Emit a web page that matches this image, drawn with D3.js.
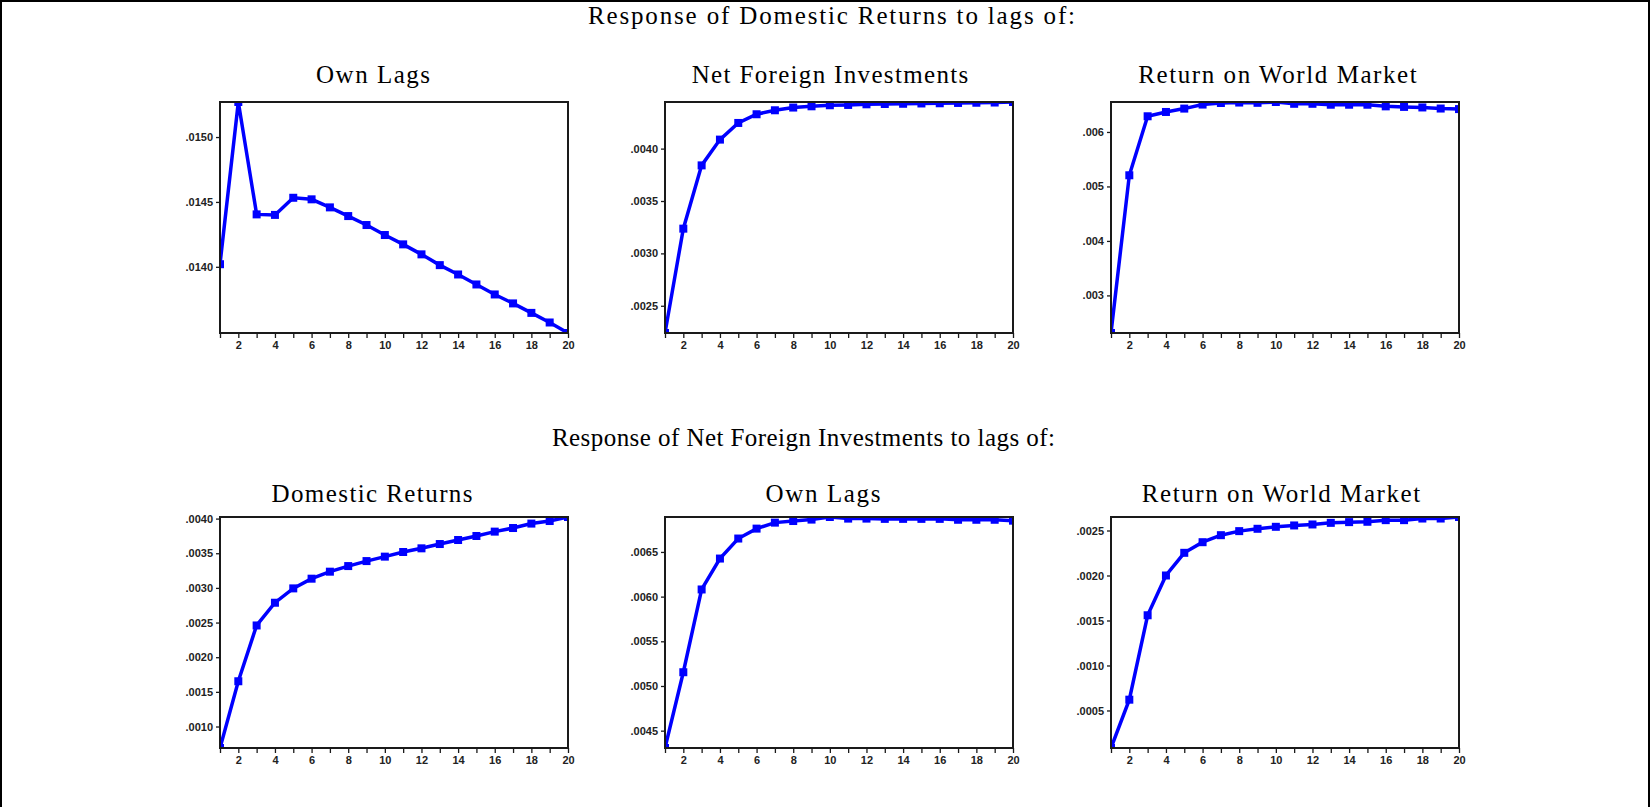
<!DOCTYPE html>
<html>
<head>
<meta charset="utf-8">
<script src="https://cdn.jsdelivr.net/npm/d3@7"></script>
<style>
  html, body { margin: 0; padding: 0; background: #fff; }
  svg { display: block; }
</style>
</head>
<body>
<svg id="chart" width="1650" height="807"></svg>
<script>
// ---------------- DATA ----------------
const horizons = [1,2,3,4,5,6,7,8,9,10,11,12,13,14,15,16,17,18,19,20];

const rowTitles = [
  "Response of Domestic Returns to lags of:",
  "Response of Net Foreign Investments to lags of:"
];

const panelTitles = [
  "Own Lags", "Net Foreign Investments", "Return on World Market",
  "Domestic Returns", "Own Lags", "Return on World Market"
];

// Response of Domestic Returns
const drOwn = [0.01402, 0.01527, 0.014404, 0.01440, 0.014532, 0.01452, 0.014458, 0.014391, 0.014322, 0.014245,
               0.014173, 0.014096, 0.014013, 0.013941, 0.013864, 0.013787, 0.013718, 0.013645, 0.013571, 0.01349];
const drNfi = [0.00224, 0.003236, 0.00384, 0.004086, 0.004245, 0.004328, 0.004366, 0.004392, 0.004404, 0.004414,
               0.004417, 0.004423, 0.004426, 0.004428, 0.004431, 0.004433, 0.004436, 0.004438, 0.00444, 0.004445];
const drWorld = [0.00231, 0.005205, 0.006288, 0.006367, 0.006429, 0.006503, 0.006532, 0.00654, 0.006535, 0.00655,
                 0.006517, 0.006517, 0.0065, 0.0065, 0.0065, 0.00647, 0.00646, 0.00645, 0.00643, 0.00642];

// Response of Net Foreign Investments
const nfiDr = [0.00069, 0.001653, 0.002458, 0.002786, 0.002993, 0.003133, 0.003234, 0.003315, 0.003387, 0.003451,
               0.003518, 0.003571, 0.003633, 0.003691, 0.003749, 0.003812, 0.003864, 0.003928, 0.003965, 0.004023];
const nfiOwn = [0.004306, 0.005154, 0.00608, 0.006426, 0.00665, 0.006761, 0.006828, 0.006846, 0.006862, 0.006891,
                0.006873, 0.006873, 0.00687, 0.00687, 0.00687, 0.00687, 0.00686, 0.00686, 0.00686, 0.00685];
const nfiWorld = [0.000083, 0.00062, 0.001558, 0.002, 0.002252, 0.00237, 0.002448, 0.002493, 0.002519, 0.002541,
                  0.002556, 0.002567, 0.002585, 0.002593, 0.002597, 0.002615, 0.002615, 0.002633, 0.002633, 0.00265];

// Y tick labels per panel
const drOwnTicks   = [".0140", ".0145", ".0150"];
const drNfiTicks   = [".0025", ".0030", ".0035", ".0040"];
const drWorldTicks = [".003", ".004", ".005", ".006"];
const nfiDrTicks   = [".0010", ".0015", ".0020", ".0025", ".0030", ".0035", ".0040"];
const nfiOwnTicks  = [".0045", ".0050", ".0055", ".0060", ".0065"];
const nfiWorldTicks= [".0005", ".0010", ".0015", ".0020", ".0025"];

// X tick labels (even horizons)
const xTickLabels = ["2","4","6","8","10","12","14","16","18","20"];

// ---------------- LAYOUT ----------------
const series = [drOwn, drNfi, drWorld, nfiDr, nfiOwn, nfiWorld];
const tickSets = [drOwnTicks, drNfiTicks, drWorldTicks, nfiDrTicks, nfiOwnTicks, nfiWorldTicks];

const colLeft = [220, 665, 1111];
const rowTop = [102, 517];
const plotW = 348, plotH = 231;

const rowTitleLayout = [ {cx: 831.5, y: 24, w: 487}, {cx: 803.4, y: 446, w: 503} ];
const panelTitleLayout = [
  {cx: 373, w: 114}, {cx: 830, w: 276.6}, {cx: 1277.5, w: 278.4},
  {cx: 372, w: 201}, {cx: 823, w: 115}, {cx: 1281, w: 278.3}
];
const panelTitleY = [83, 501.5];

const svg = d3.select("#chart");
const serif = "'Liberation Serif', 'Times New Roman', serif";
const sans = "'Liberation Sans', Arial, sans-serif";

// outer frame
svg.append("rect")
  .attr("x", 1).attr("y", 1).attr("width", 1648).attr("height", 830)
  .attr("fill", "none").attr("stroke", "#000").attr("stroke-width", 2);

// row titles
rowTitles.forEach((t, i) => {
  const L = rowTitleLayout[i];
  svg.append("text")
    .attr("x", L.cx).attr("y", L.y)
    .attr("text-anchor", "middle")
    .attr("font-family", serif).attr("font-size", 25)
    .attr("textLength", L.w).attr("lengthAdjust", "spacing")
    .attr("fill", "#000")
    .text(t);
});

series.forEach((vals, i) => {
  const row = Math.floor(i / 3), col = i % 3;
  const left = colLeft[col], top = rowTop[row];
  const g = svg.append("g").attr("transform", `translate(${left},${top})`);

  const x = d3.scaleLinear().domain(d3.extent(horizons)).range([0, plotW]);
  const y = d3.scaleLinear().domain(d3.extent(vals)).range([plotH, 0]);

  // panel title
  const PT = panelTitleLayout[i];
  svg.append("text")
    .attr("x", PT.cx).attr("y", panelTitleY[row])
    .attr("text-anchor", "middle")
    .attr("font-family", serif).attr("font-size", 25)
    .attr("textLength", PT.w).attr("lengthAdjust", "spacing")
    .attr("fill", "#000")
    .text(panelTitles[i]);

  // clip
  const cid = "clip" + i;
  g.append("clipPath").attr("id", cid)
    .append("rect").attr("x", 0).attr("y", 0).attr("width", plotW).attr("height", plotH);

  const pg = g.append("g").attr("clip-path", `url(#${cid})`);

  const line = d3.line().x((d, k) => x(horizons[k])).y(d => y(d));
  pg.append("path")
    .datum(vals)
    .attr("d", line)
    .attr("fill", "none")
    .attr("stroke", "#0000ff")
    .attr("stroke-width", 3.5)
    .attr("stroke-linejoin", "miter");

  const ms = 8;
  pg.selectAll("rect.mk").data(vals).enter().append("rect")
    .attr("class", "mk")
    .attr("x", (d, k) => x(horizons[k]) - ms / 2)
    .attr("y", d => y(d) - ms / 2)
    .attr("width", ms).attr("height", ms)
    .attr("fill", "#0000ff");

  // box
  g.append("rect")
    .attr("x", 0).attr("y", 0).attr("width", plotW).attr("height", plotH)
    .attr("fill", "none").attr("stroke", "#1a1a1a").attr("stroke-width", 2);

  // y axis
  const tickVals = tickSets[i].map(s => Number(s));
  const yAxis = d3.axisLeft(y).tickValues(tickVals)
    .tickFormat((d, k) => tickSets[i][k]).tickSize(4).tickPadding(3);
  const ya = g.append("g").call(yAxis);
  ya.select(".domain").remove();
  ya.selectAll("line").attr("stroke", "#1a1a1a").attr("stroke-width", 1.3);
  ya.selectAll("text").attr("font-family", sans).attr("font-size", 11)
    .attr("font-weight", "bold").attr("fill", "#222");

  // x axis
  const xAxis = d3.axisBottom(x).tickValues(horizons)
    .tickFormat(d => xTickLabels.includes(String(d)) ? String(d) : "")
    .tickSize(5).tickPadding(3);
  const xa = g.append("g").attr("transform", `translate(0,${plotH})`).call(xAxis);
  xa.select(".domain").remove();
  xa.selectAll("line").attr("stroke", "#1a1a1a").attr("stroke-width", 1.3);
  xa.selectAll("text").attr("font-family", sans).attr("font-size", 11)
    .attr("font-weight", "bold").attr("fill", "#222");
});
</script>
</body>
</html>
